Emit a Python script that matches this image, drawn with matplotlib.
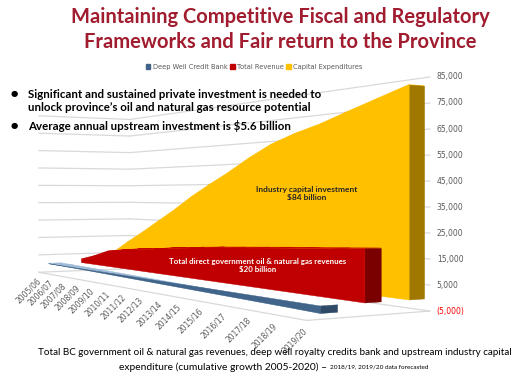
import matplotlib.pyplot as plt
from matplotlib.patches import Patch
from mpl_toolkits.mplot3d.art3d import Poly3DCollection
from mpl_toolkits.mplot3d import proj3d
import numpy as np

# categories (fiscal years)
years = ['2005/06', '2006/07', '2007/08', '2008/09', '2009/10', '2010/11', '2011/12',
         '2012/13', '2013/14', '2014/15', '2015/16', '2016/17', '2017/18', '2018/19', '2019/20']
# cumulative values, $ millions
capex = [5500, 12100, 18300, 24800, 31300, 38400, 44700, 50600, 57100, 62800,
         66800, 69900, 73900, 77700, 81500]
revenue = [1800, 4700, 8300, 9900, 11200, 12200, 13400, 14400, 15300, 16100,
           16900, 17700, 18400, 19100, 19900]
credits = [0, -150, -300, -450, -650, -850, -1050, -1250, -1450, -1650,
           -1850, -2050, -2250, -2450, -2700]
ticks = [-5000, 5000, 15000, 25000, 35000, 45000, 55000, 65000, 75000, 85000]

# series: name, values, depth row, front colour, side colour, top colour
series = [
    ('Capital Expenditures', capex, 2.45, '#FFC000', '#A07800', '#FFC000'),
    ('Total Revenue', revenue, 1.35, '#C00000', '#7A0000', '#C00000'),
    ('Deep Well Credit Bank', credits, 0.3, '#41658A', '#2E4A66', '#9DBAD6'),
]
thick = 0.4

fig = plt.figure(figsize=(5.19, 3.76), dpi=100)
ax = fig.add_axes([-0.1181, -0.1989, 0.9634, 1.3298], projection='3d', computed_zorder=False)
ax.set_proj_type('persp', focal_length=0.3793)
ax.view_init(elev=0, azim=-30)
ax.set_box_aspect((2, 0.45, 0.694), zoom=1.1357)
ax.set_axis_off()
n = len(years)
try:
    ax.set_xlim(0, n - 1, view_margin=0)
    ax.set_ylim(0, 3, view_margin=0)
    ax.set_zlim(-5000, 85000, view_margin=0)
except TypeError:
    ax.set_xlim(0, n - 1)
    ax.set_ylim(0, 3)
    ax.set_zlim(-5000, 85000)

xs = np.arange(n)
grid = '#D9D9D9'

# walls: back wall and left side wall gridlines, floor edges
for t in ticks:
    ax.plot([0, n - 1], [3, 3], [t, t], color=grid, lw=0.9, zorder=1)
    ax.plot([0, 0], [0, 3], [t, t], color=grid, lw=0.9, zorder=1)
ax.plot([0, n - 1], [0, 0], [-5000, -5000], color=grid, lw=0.9, zorder=1)
ax.plot([n - 1, n - 1], [0, 3], [-5000, -5000], color=grid, lw=0.9, zorder=1)

z = 2
for name, vals, y0, c_front, c_side, c_top in series:
    y1 = y0 + thick
    tops = []
    for i in range(n - 1):
        tops.append([(xs[i], y0, vals[i]), (xs[i + 1], y0, vals[i + 1]),
                     (xs[i + 1], y1, vals[i + 1]), (xs[i], y1, vals[i])])
    ax.add_collection3d(Poly3DCollection(tops, facecolor=c_top, edgecolor=c_top,
                                         lw=0.3, zorder=z))
    end = [[(xs[-1], y0, 0), (xs[-1], y0, vals[-1]), (xs[-1], y1, vals[-1]), (xs[-1], y1, 0)]]
    ax.add_collection3d(Poly3DCollection(end, facecolor=c_side, edgecolor=c_side,
                                         lw=0.3, zorder=z + 0.1))
    front = [(x, y0, v) for x, v in zip(xs, vals)] + [(x, y0, 0) for x in xs[::-1]]
    ax.add_collection3d(Poly3DCollection([front], facecolor=c_front, edgecolor=c_front,
                                         lw=0.3, zorder=z + 0.2))
    z += 1

# project label anchors with the axes' own projection, then place as 2D text
fig.canvas.draw()
M = ax.get_proj()

for t in ticks:
    lab = f'{t:,}' if t >= 0 else f'({-t:,})'
    px, py, _ = proj3d.proj_transform(n - 1, 3, t, M)
    ax.annotate(lab, (px, py), xytext=(5, 0), textcoords='offset points',
                fontsize=5.5, ha='left', va='center',
                color='#FF0000' if t < 0 else '#595959', zorder=10)

for i, yr in enumerate(years):
    px, py, _ = proj3d.proj_transform(i - 0.15, 0, -7500, M)
    ax.text2D(px, py, yr, fontsize=5.5, rotation=45, ha='right', va='top',
              color='#595959', rotation_mode='anchor', zorder=10)

# titles and slide text
fig.text(0.54, 0.921, 'Maintaining Competitive Fiscal and Regulatory\nFrameworks and Fair return to the Province',
         ha='center', va='center', fontsize=14.5, fontweight='bold', color='#A01C2E',
         family='Lato', linespacing=1.3)
fig.text(0.02, 0.752, '\u25cf', fontsize=6, va='center', color='black')
fig.text(0.02, 0.666, '\u25cf', fontsize=6, va='center', color='black')
fig.text(0.054, 0.731, 'Significant and sustained private investment is needed to\n'
         'unlock province\u2019s oil and natural gas resource potential',
         ha='left', va='center', fontsize=8.3, fontweight='bold', family='Lato',
         linespacing=1.3)
fig.text(0.054, 0.666, 'Average annual upstream investment is $5.6 billion',
         ha='left', va='center', fontsize=8.3, fontweight='bold', family='Lato')

fig.text(0.59, 0.485, 'Industry capital investment\n$84 billion', ha='center', va='center',
         fontsize=6, fontweight='bold', color='#262626', family='Lato')
fig.text(0.496, 0.294, 'Total direct government oil & natural gas revenues\n$20 billion',
         ha='center', va='center', fontsize=5.7, fontweight='bold', color='white', family='Lato')

handles = [Patch(color=s[3], label=s[0]) for s in series[::-1]]
fig.legend(handles=handles, loc='center', bbox_to_anchor=(0.49, 0.823), ncol=3, frameon=False,
           fontsize=4.8, handlelength=0.7, handleheight=0.7, columnspacing=0.3,
           handletextpad=0.4, labelcolor='#595959')

fig.text(0.53, 0.063, 'Total BC government oil & natural gas revenues, deep well royalty credits bank and upstream industry capital',
         ha='center', va='center', fontsize=7.1, family='Lato')
fig.text(0.636, 0.024, 'expenditure (cumulative growth 2005-2020) \u2013 ', ha='right', va='center',
         fontsize=7.4, family='Lato')
fig.text(0.636, 0.024, '2018/19, 2019/20 data forecasted', ha='left', va='center',
         fontsize=4.6, family='Lato')

fig.savefig('out.png', dpi=100)
